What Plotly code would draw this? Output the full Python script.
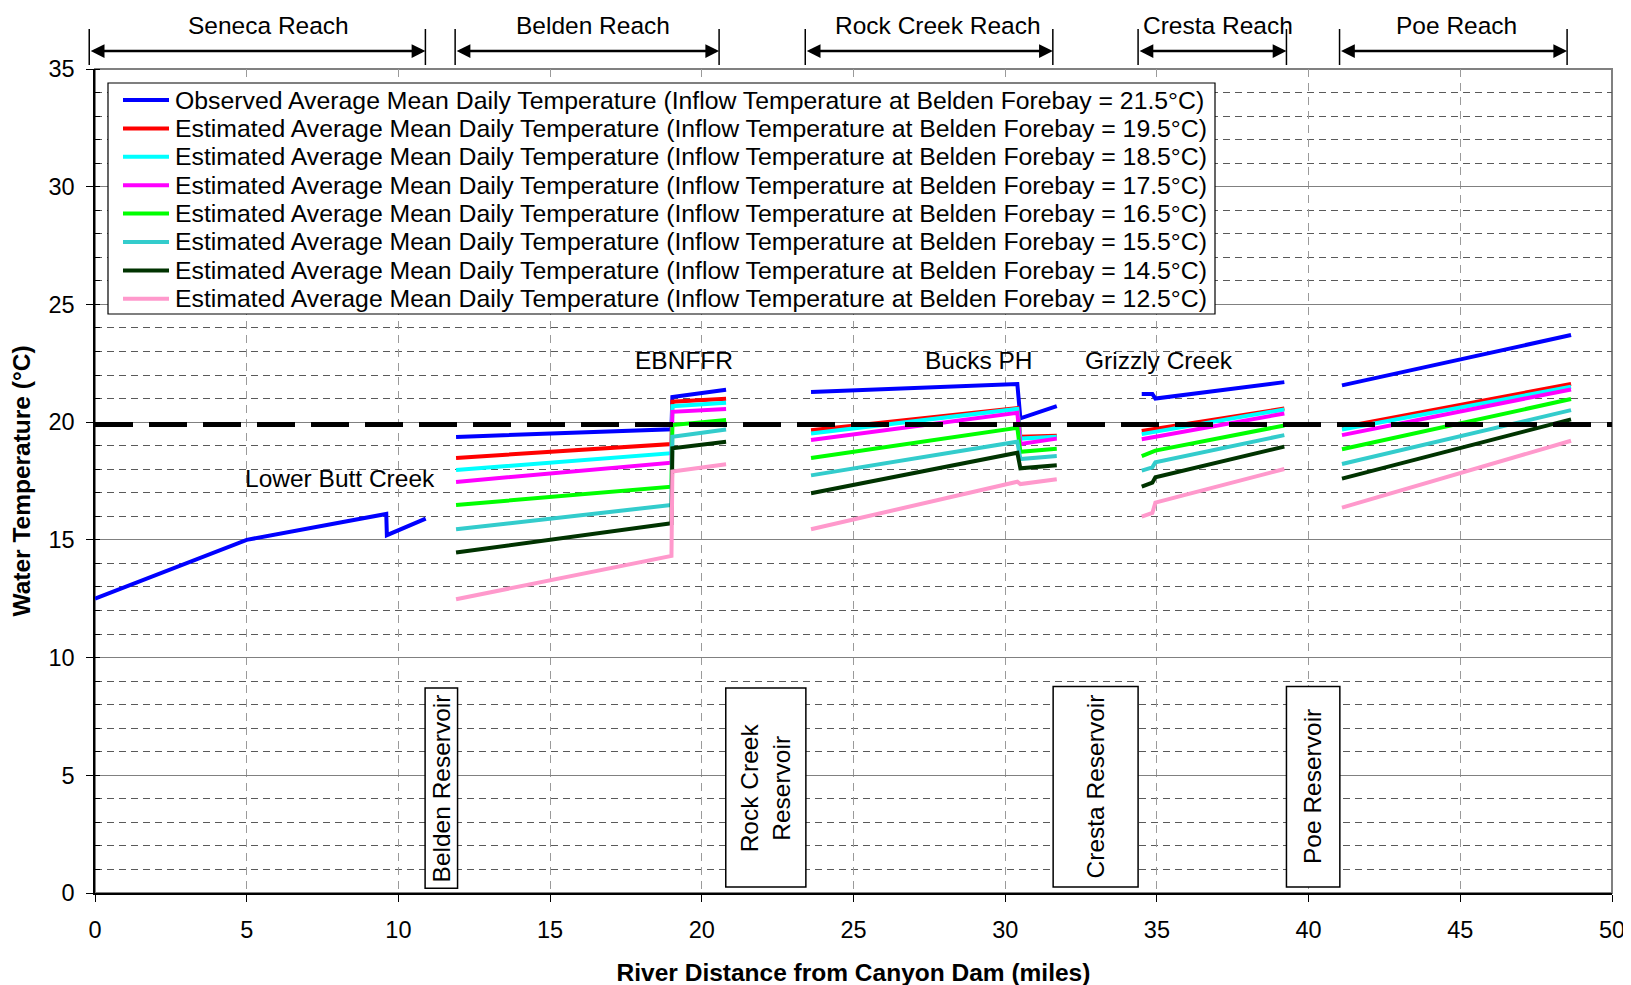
import plotly.graph_objects as go

FONT = "Arial, 'Liberation Sans', sans-serif"

# river distance (miles) of the points in each reach
SENECA_X = [0.0, 5.0, 9.6, 9.62, 10.9]
BELDEN_X = [11.9, 19.0, 19.03, 20.8]
ROCK_X = [23.6, 30.4, 30.5, 31.7]
CRESTA_X = [34.5, 34.85, 34.95, 39.2]
POE_X = [41.1, 48.65]

SERIES = [
    "Observed Average Mean Daily Temperature (Inflow Temperature at Belden Forebay = 21.5°C)",
    "Estimated Average Mean Daily Temperature (Inflow Temperature at Belden Forebay = 19.5°C)",
    "Estimated Average Mean Daily Temperature (Inflow Temperature at Belden Forebay = 18.5°C)",
    "Estimated Average Mean Daily Temperature (Inflow Temperature at Belden Forebay = 17.5°C)",
    "Estimated Average Mean Daily Temperature (Inflow Temperature at Belden Forebay = 16.5°C)",
    "Estimated Average Mean Daily Temperature (Inflow Temperature at Belden Forebay = 15.5°C)",
    "Estimated Average Mean Daily Temperature (Inflow Temperature at Belden Forebay = 14.5°C)",
    "Estimated Average Mean Daily Temperature (Inflow Temperature at Belden Forebay = 12.5°C)",
]
COLORS = ["#0000FF", "#FF0000", "#00FFFF", "#FF00FF", "#00FF00", "#33CCCC", "#003300", "#FF99CC"]

# water temperature (°C), one row per series in SERIES order
SENECA_OBS = [12.5, 15.0, 16.1, 15.2, 15.9]
BELDEN_Y = [
    [19.37, 19.70, 21.07, 21.38],
    [18.48, 19.07, 20.87, 20.99],
    [17.97, 18.68, 20.68, 20.82],
    [17.46, 18.28, 20.44, 20.56],
    [16.48, 17.26, 19.88, 20.09],
    [15.45, 16.48, 19.38, 19.69],
    [14.46, 15.71, 18.89, 19.17],
    [12.48, 14.32, 17.90, 18.21],
]
ROCK_Y = [
    [21.28, 21.62, 20.16, 20.68],
    [19.66, 20.60, 19.38, 19.42],
    [19.52, 20.56, 19.30, 19.38],
    [19.24, 20.40, 19.07, 19.30],
    [18.48, 19.76, 18.74, 18.87],
    [17.74, 19.17, 18.43, 18.56],
    [16.98, 18.70, 18.04, 18.17],
    [15.45, 17.47, 17.37, 17.57],
]
CRESTA_Y = [
    [21.20, 21.20, 21.00, 21.70],
    [19.62, 19.69, 19.71, 20.58],
    [19.49, 19.57, 19.59, 20.54],
    [19.27, 19.35, 19.38, 20.37],
    [18.56, 18.76, 18.79, 19.86],
    [17.94, 18.08, 18.30, 19.45],
    [17.26, 17.43, 17.66, 18.96],
    [15.99, 16.14, 16.58, 18.01],
]
POE_Y = [
    [21.56, 23.70],
    [19.78, 21.62],
    [19.69, 21.50],
    [19.45, 21.39],
    [18.85, 20.98],
    [18.22, 20.51],
    [17.60, 20.12],
    [16.37, 19.21],
]

THRESHOLD_C = 19.9

REACHES = ["Seneca Reach", "Belden Reach", "Rock Creek Reach", "Cresta Reach", "Poe Reach"]
REACH_START = [-0.19, 11.87, 23.41, 34.38, 41.02]
REACH_END = [10.89, 20.57, 31.57, 39.27, 48.52]
REACH_LABEL_X = [5.72, 16.4, 27.78, 37.03, 44.88]

SITES = ["Lower Butt Creek", "EBNFFR", "Bucks PH", "Grizzly Creek"]
SITE_X = [8.08, 19.4, 29.13, 35.06]
SITE_Y = [17.6, 22.6, 22.6, 22.6]

RESERVOIRS = ["Belden Reservoir", "Rock Creek<br>Reservoir", "Cresta Reservoir", "Poe Reservoir"]
RES_X0 = [10.88, 20.79, 31.58, 39.27]
RES_X1 = [11.95, 23.43, 34.38, 41.03]
RES_Y0 = [0.2, 0.25, 0.25, 0.25]
RES_Y1 = [8.71, 8.71, 8.77, 8.77]

X_MAX = 50
Y_MAX = 35

W, H = 1631, 985
BODY = 8  # default page margin around the plot div
M_L, M_R, M_T, M_B = 87, 27, 61, 100
PLOT_W = W - M_L - M_R
PLOT_H = H - M_T - M_B
PLOT_LEFT = BODY + M_L
PLOT_BOTTOM = BODY + H - M_B


def paper_x(px):
    return (px - PLOT_LEFT) / PLOT_W


def paper_y(py):
    return (PLOT_BOTTOM - py) / PLOT_H


TEXT_FONT = {"size": 24.5, "color": "black", "family": FONT}
LEGEND_FONT = {"size": 24.8, "color": "black", "family": FONT}

fig = go.Figure()

for i, name in enumerate(SERIES):
    xs, ys = [], []
    if i == 0:
        xs += SENECA_X + [None]
        ys += SENECA_OBS + [None]
    for rx, ry in [(BELDEN_X, BELDEN_Y), (ROCK_X, ROCK_Y), (CRESTA_X, CRESTA_Y), (POE_X, POE_Y)]:
        xs += rx + [None]
        ys += ry[i] + [None]
    fig.add_trace(
        go.Scatter(
            x=xs,
            y=ys,
            mode="lines",
            name=name,
            showlegend=False,
            line={"color": COLORS[i], "width": 4},
            connectgaps=False,
        )
    )

shapes = [
    # grey frame around the plot area
    {"type": "rect", "xref": "paper", "yref": "paper", "x0": 0, "x1": 1, "y0": 0, "y1": 1,
     "line": {"color": "#808080", "width": 2}, "layer": "below"},
    # 20 °C criterion line
    {"type": "line", "xref": "paper", "yref": "y", "x0": 0, "x1": 1, "y0": THRESHOLD_C, "y1": THRESHOLD_C,
     "line": {"color": "black", "width": 5, "dash": "38px,16px"}, "layer": "above"},
]
annotations = []

# legend box, drawn by hand to match the original row spacing
shapes.append({"type": "rect", "xref": "paper", "yref": "paper",
               "x0": paper_x(108), "x1": paper_x(1215), "y0": paper_y(314), "y1": paper_y(83),
               "fillcolor": "white", "line": {"color": "black", "width": 1.2}, "layer": "above"})
for i, name in enumerate(SERIES):
    row = 100 + i * 28.4
    shapes.append({"type": "line", "xref": "paper", "yref": "paper",
                   "x0": paper_x(123), "x1": paper_x(169), "y0": paper_y(row), "y1": paper_y(row),
                   "line": {"color": COLORS[i], "width": 4}, "layer": "above"})
    annotations.append(dict(
        xref="paper", yref="paper", x=paper_x(173), y=paper_y(row), text=name, showarrow=False,
        xanchor="left", yanchor="middle", font=LEGEND_FONT,
    ))

for name, x0, x1, lx in zip(REACHES, REACH_START, REACH_END, REACH_LABEL_X):
    for xv in (x0, x1):
        shapes.append({"type": "line", "xref": "paper", "yref": "paper",
                       "x0": xv / X_MAX, "x1": xv / X_MAX, "y0": paper_y(65), "y1": paper_y(29),
                       "line": {"color": "black", "width": 1.5}})
    annotations.append(dict(
        xref="paper", yref="paper", x=x1 / X_MAX, y=paper_y(51), text="",
        showarrow=True, axref="pixel", ayref="pixel", ax=-(x1 - x0) / X_MAX * PLOT_W, ay=0,
        arrowside="end+start", arrowhead=2, arrowsize=1.1, arrowwidth=2.5, arrowcolor="black",
        standoff=0, startstandoff=0,
    ))
    annotations.append(dict(
        xref="paper", yref="paper", x=lx / X_MAX, y=paper_y(25), text=name, showarrow=False,
        xanchor="center", yanchor="middle", font=TEXT_FONT,
    ))

for name, sx, sy in zip(SITES, SITE_X, SITE_Y):
    annotations.append(dict(
        x=sx, y=sy, text=name, showarrow=False, xanchor="center", yanchor="middle", font=TEXT_FONT,
    ))

for name, x0, x1, y0, y1 in zip(RESERVOIRS, RES_X0, RES_X1, RES_Y0, RES_Y1):
    shapes.append({"type": "rect", "x0": x0, "x1": x1, "y0": y0, "y1": y1,
                   "fillcolor": "white", "line": {"color": "black", "width": 1.5}, "layer": "between"})
    annotations.append(dict(
        x=(x0 + x1) / 2, y=(y0 + y1) / 2, text=name, showarrow=False, textangle=-90,
        xanchor="center", yanchor="middle", font=TEXT_FONT,
    ))

fig.update_layout(
    width=W,
    height=H,
    margin={"l": M_L, "r": M_R, "t": M_T, "b": M_B, "autoexpand": False},
    plot_bgcolor="white",
    paper_bgcolor="white",
    font={"family": FONT, "color": "black", "size": 23.5},
    shapes=shapes,
    annotations=annotations,
    showlegend=False,
    xaxis={
        "range": [0, X_MAX], "dtick": 5, "showline": True, "linecolor": "black", "linewidth": 1.5,
        "ticks": "outside", "ticklen": 7, "tickcolor": "black", "ticklabelstandoff": 8,
        "showgrid": True, "gridcolor": "#9a9a9a", "griddash": "8px,6px", "gridwidth": 1,
        "zeroline": False,
        "title": {"text": "<b>River Distance from Canyon Dam (miles)</b>", "font": {"size": 24.5},
                  "standoff": 22},
    },
    yaxis={
        "range": [0, Y_MAX], "dtick": 5, "showline": True, "linecolor": "black", "linewidth": 1.5,
        "ticks": "outside", "ticklen": 7, "tickcolor": "black", "ticklabelstandoff": 7,
        "showgrid": True, "gridcolor": "#808080", "gridwidth": 1, "zeroline": False,
        "minor": {"dtick": 1, "showgrid": True, "gridcolor": "#5a5a5a", "griddash": "7px,5px",
                  "gridwidth": 1, "ticks": "inside", "ticklen": 5, "tickcolor": "black"},
        "title": {"text": "<b>Water Temperature (°C)</b>", "font": {"size": 24.5}, "standoff": 12},
    },
)

fig.write_html("out.html")
